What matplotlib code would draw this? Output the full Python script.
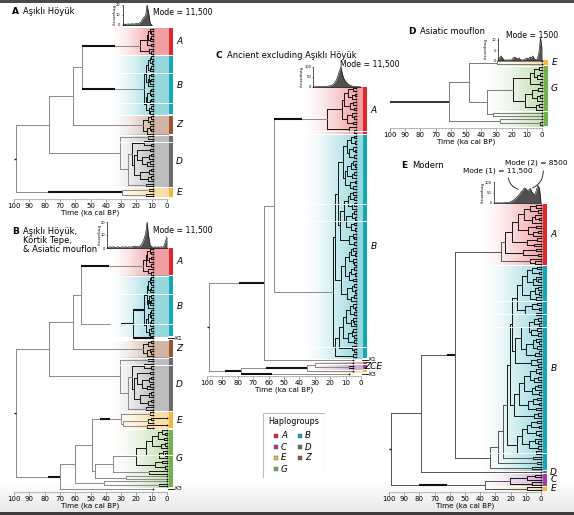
import numpy as np
import matplotlib
matplotlib.use("Agg")
import matplotlib.pyplot as plt
from matplotlib.patches import Rectangle, FancyArrowPatch
from matplotlib.collections import LineCollection
from matplotlib.colors import to_rgb

plt.rcParams['font.family'] = ['DejaVu Sans']

W, H = 574, 515

# ------------------------------------------------------------------ data
time_ticks = [100, 90, 80, 70, 60, 50, 40, 30, 20, 10, 0]
legend_col1 = ['A', 'C', 'E', 'G']
legend_col2 = ['B', 'D', 'Z']

# Panel A : Asikli Hoyuk
A_groups = ['A', 'B', 'Z', 'D', 'E']
A_labels = ['A', 'B', 'Z', 'D', 'E']
A_hA = [11.0, 10.2, 12.5, 10.6, 11.4, 13.2, 10.4, 17.5, 12.0, 10.3]
A_hB = [10.3, 11.2, 10.1, 12.4, 10.6, 11.0, 13.5, 10.2, 11.8, 10.4, 10.9, 12.2,
        15.0, 10.5, 11.3, 10.2, 12.8, 10.6, 11.1, 13.9, 10.3, 11.6, 10.8]
A_hZ = [10.4, 12.1, 10.8, 16.0, 11.2, 10.5, 13.0]
A_hD = [12.5, 31.0, 14.8, 10.6, 23.0, 11.4, 19.5, 10.2, 12.0, 16.2, 10.8, 13.1,
        21.5, 10.5, 11.9, 17.8, 10.4, 12.6, 25.4, 14.0]
A_hE = [12.0, 29.5, 13.5]
A_between = [55.7, 61.6, 77.0, 98.7]
A_tip_age = [9, 9, 9, 9, 9]
A_seps = [18, 30, 46]
A_thick = [(55.7, 17.5, 55.7, 34.0), (55.7, 15.0, 55.7, 34.0), (98.7, 29.5, 78.0, 29.5)]
A_hist_t = [29, 28, 27, 26, 25, 24, 23, 22, 21, 20, 19, 18, 17, 16, 15, 14, 13, 12, 11, 10]
A_hist_f = [0.5, 1, 0.5, 1, 1, 0.8, 1.2, 1, 1, 1.5, 1, 2, 3, 6, 8, 9, 20, 12, 2, 0]

# Panel B : Asikli Hoyuk, Kortik Tepe & Asiatic mouflon
B_groups = ['A', 'B', 'K1', 'Z', 'D', 'E', 'G', 'K3']
B_labels = ['A', 'B', 'K1', 'Z', 'D', 'E', 'G', 'K3']
B_hA = [11.2, 10.3, 12.8, 10.5, 11.6, 13.4, 10.2, 15.6, 12.2, 10.4]
B_hB = [10.4, 11.3, 10.2, 12.6, 10.7, 11.1, 13.3, 10.3, 11.9, 10.5, 10.8, 12.3,
        15.2, 10.4, 11.2, 10.3, 12.7, 10.5, 11.0, 13.8, 10.2, 11.5, 10.9]
B_hK1 = []
B_hZ = [10.6, 12.3, 15.6, 11.0, 10.4, 13.1]
B_hD = [12.5, 31.0, 14.8, 10.6, 23.0, 11.4, 19.5, 10.2, 12.0, 16.2, 10.8, 13.1,
        21.5, 10.5, 11.9, 17.8, 10.4, 12.6, 25.4, 14.0]
B_hE = [11.0, 30.0, 10.5, 12.5, 28.5, 13.0]
B_hG = [3.5, 1.2, 6.0, 2.1, 9.5, 1.6, 4.2, 14.0, 2.8, 1.0, 5.5, 20.0, 3.1, 7.8,
        1.5, 35.0, 12.0, 47.0, 27.0, 60.0, 41.0, 5.0]
B_hK3 = []
B_between = [56.0, 22.0, 61.7, 77.0, 98.7, 49.0, 70.0]
B_tip_age = [9, 9, 9, 9, 9, [9, 9, 0, 9, 9, 0, 9], 0, 9]
B_seps = [18, 30, 46, 81]
B_thick = [(56.0, 15.6, 56.0, 38.0), (56.0, 22.0, 30.0, 22.0), (22.0, 15.2, 22.0, 15.2),
           (22.0, 9, 22.0, 9.0), (98.7, 70.0, 78.0, 70.0), (49.0, 30.0, 44.0, 37.0)]
B_hist_t = [39, 38, 37, 36, 35, 34, 33, 32, 31, 30, 29, 28, 27, 26, 25, 24, 23, 22, 21, 20,
            19, 18, 17, 16, 15, 14, 13, 12, 11, 10, 9, 8, 7, 6, 5, 4, 3, 2, 1, 0]
B_hist_f = [0.5, 0.5, 1, 0.5, 1, 0.5, 0.5, 1, 0.5, 0.5, 1, 0.5, 1, 0.5, 1, 0.5, 1, 1, 1.5, 1,
            1, 1.5, 2, 4, 7, 11, 20, 9, 2, 1, 0.5, 1, 0.5, 1, 0.5, 1, 0.5, 1.5, 5, 9]

# Panel C : Ancient excluding Asikli Hoyuk
C_groups = ['A', 'B', 'K1', 'Z', 'C', 'E', 'K3']
C_labels = ['A', 'B', 'K1', '', 'ZCE', '', 'K3']
C_hA = [5.0, 8.5, 4.2, 6.1, 11.0, 5.3, 7.4, 4.6, 12.5, 6.0, 4.4, 9.0, 5.1, 22.0, 8.0, 4.8]
C_hB = [4.5, 6.8, 4.1, 9.2, 5.0, 3.8, 7.5, 4.6, 12.0, 5.2, 4.0, 6.3, 8.8, 4.4, 5.6, 10.5,
        4.2, 6.9, 4.9, 15.0,
        5.1, 7.2, 4.3, 8.4, 4.7, 6.0, 11.2, 4.5, 5.8, 3.9, 9.6, 4.8, 6.5, 4.1, 13.5, 5.4,
        4.6, 7.9, 4.3, 16.8,
        4.9, 6.2, 4.0, 8.1, 5.3, 4.4, 10.2, 4.7, 6.6, 4.2, 7.7, 5.0, 12.8, 4.5, 5.9, 4.1,
        9.0, 4.8, 6.4, 18.5,
        5.5, 4.2, 7.1, 4.6, 9.8, 5.0, 4.3, 6.7, 11.6, 4.9, 5.7, 4.4, 8.3, 4.7, 14.2, 6.1,
        4.5, 17.0, 5.2]
C_hK1 = []
C_hZ = []
C_hC = [8.0]
C_hE = []
C_hK3 = []
C_between = [56.5, 63.0, 99.0, 30.0, 35.0, 78.0]
C_tip_age = [3, 3, 5, 5, 5, 5, 8]
C_seps = [16, 42, 48, 93]
C_thick = [(99.0, 63.0, 79.0, 63.0), (56.5, 22.0, 56.5, 38.0), (99.0, 78.0, 88.0, 78.0),
           (78.0, 35.0, 62.0, 35.0), (78.0, 8, 78.0, 58.0)]
C_hist_t = [31, 30, 29, 28, 27, 26, 25, 24, 23, 22, 21, 20, 19, 18, 17, 16,
            15, 14, 13, 12, 11, 10, 9, 8, 7, 6, 5, 4, 3, 2, 1, 0]
C_hist_f = [1, 1, 2, 1, 2, 1, 2, 2, 3, 4, 5, 6, 9, 14, 22, 35,
            55, 80, 100, 62, 40, 28, 18, 12, 8, 5, 3, 2, 2, 1, 1, 0]

# Panel D : Asiatic mouflon
D_groups = ['E', 'G', 'G']
D_labels = ['E', 'G', '']
D_hE = [29.7]
D_hG1 = [2.0, 5.5, 1.2, 3.0, 8.0, 1.5, 19.0, 2.5, 6.5, 1.0, 3.5, 11.0, 1.8, 4.0]
D_hG2 = [32.0, 61.0, 27.5, 1.0]
D_between = [48.0, 36.0]
D_tip_age = [0, 0, 0]
D_seps = []
D_thick = []
D_hist_t = [29, 28, 27, 26, 25, 24, 23, 22, 21, 20, 19, 18, 17, 16, 15,
            14, 13, 12, 11, 10, 9, 8, 7, 6, 5, 4, 3, 2, 1, 0]
D_hist_f = [0, 1, 2, 1, 0, 0, 0, 0, 0, 0, 1, 1.5, 1, 0.5, 1,
            0, 0, 0, 0.5, 1, 0.5, 1.5, 1, 2, 0.5, 0, 0.5, 4, 11, 6]

# Panel E : Modern
E_groups = ['A', 'B', 'D', 'C', 'E']
E_labels = ['A', 'B', 'D', 'C', 'E']
E_hA = [3.5, 7.0, 2.1, 11.5, 4.0, 1.6, 6.2, 15.0, 3.0, 8.8, 1.9, 5.1, 19.0, 2.6,
        9.5, 4.4, 24.0, 3.2, 12.0, 2.0, 26.0, 7.5, 3.8]
E_hB = [2.5, 6.0, 1.4, 9.5, 3.2, 1.8, 5.0, 12.5, 2.2, 4.1, 1.1, 7.4, 3.0, 16.0, 2.7,
        5.8, 1.5, 10.2, 3.6, 19.0,
        2.0, 4.6, 1.3, 8.1, 2.9, 6.5, 1.7, 13.4, 3.3, 1.2, 5.4, 2.4, 9.8, 1.6, 4.2,
        17.2, 2.8, 6.9, 1.9, 20.5,
        3.1, 1.5, 7.2, 2.3, 4.8, 11.0, 1.8, 3.7, 6.1, 1.4, 14.6, 2.6, 5.3, 1.2, 8.6,
        3.4, 18.0, 2.1, 4.5, 22.6,
        2.7, 6.3, 1.6, 9.1, 3.0, 1.3, 12.2, 4.0, 2.2, 7.6, 1.8, 15.5, 3.5, 25.0, 5.2,
        28.0, 2.9, 33.6, 6.0]
E_hD = []
E_hC = [4.0, 9.5, 20.4, 6.0]
E_hE = [9.5]
E_between = [56.7, 78.7, 98.9, 37.0]
E_tip_age = [0, 0, 0, 0, 0]
E_seps = [38, 43, 48, 97]
E_thick = [(78.7, 56.7, 62.0, 56.7), (98.9, 37.0, 80.0, 62.0)]
E_hist_t = [31, 30, 29, 28, 27, 26, 25, 24, 23, 22, 21, 20, 19, 18, 17, 16,
            15, 14, 13, 12, 11, 10, 9, 8, 7, 6, 5, 4, 3, 2, 1, 0]
E_hist_f = [1, 0, 1, 0, 1, 0, 1, 1, 2, 1, 3, 6, 10, 14, 20, 28,
            35, 42, 55, 60, 72, 68, 58, 62, 70, 52, 45, 40, 62, 85, 70, 5]

# ------------------------------------------------------------------ style
hap_colors = {'A': '#e2262d', 'B': '#14a7b4', 'C': '#9b3f9d', 'D': '#6a6a6a',
              'E': '#f4b53c', 'G': '#72b24c', 'Z': '#98562f'}

fig = plt.figure(figsize=(W / 100, H / 100), dpi=100)
fig.patch.set_facecolor('white')


def px_axes(x0, y0, x1, y1, **kw):
    return fig.add_axes([x0 / W, 1 - y1 / H, (x1 - x0) / W, (y1 - y0) / H], **kw)


def ftext(x, y, s, **kw):
    kw.setdefault('va', 'center')
    return fig.text(x / W, 1 - y / H, s, **kw)


# background: bottom shading and dark frame bands
bg = px_axes(0, 0, W, H, zorder=-10)
bg.axis('off')
grad = np.linspace(0, 1, 50)[:, None] * np.ones((1, 2))
bg.imshow(np.dstack([1 - 0.09 * grad] * 3), extent=(0, W, 512, 482), aspect='auto',
          interpolation='bilinear')
bg.add_patch(Rectangle((0, 511.5), W, 4, color='#3c3a3a', lw=0))
bg.add_patch(Rectangle((0, 0), W, 2.5, color='#4a4a4a', lw=0))
bg.set_xlim(0, W)
bg.set_ylim(H, 0)


def assemble(within, between, tip_age):
    tips, heights, spans = [], [], []
    for g, w in enumerate(within):
        n = len(w) + 1
        ta = tip_age[g]
        tl = list(ta) if isinstance(ta, (list, tuple)) else [ta] * n
        start = len(tips)
        tips += tl
        heights += list(w)
        if g < len(between):
            heights.append(between[g])
        spans.append((start, start + n - 1))
    return tips, heights, spans


def build(tips, heights):
    segs = []

    def rec(lo, hi):
        if lo == hi:
            return tips[lo], float(lo)
        k = lo + int(np.argmax(heights[lo:hi]))
        h = heights[k]
        tl, yl = rec(lo, k)
        tr, yr = rec(k + 1, hi)
        segs.append((h, tl, yl, yl))
        segs.append((h, tr, yr, yr))
        segs.append((h, h, yl, yr))
        return h, 0.5 * (yl + yr)

    rh, ry = rec(0, len(tips) - 1)
    return segs, rh, ry


def draw_panel(yfirst, ylast, spine_y, X100, X0, groups, labels, within, between,
               tip_age, seps, thick, grad_t, deep_col='#8a8a8a', deep_thr=24,
               root_lw=1.0):
    tips, heights, spans = assemble(within, between, tip_age)
    n = len(tips)
    sp = (ylast - yfirst) / (n - 1)
    s = (X0 - X100) / 100.0
    ax = px_axes(X100 - 4, yfirst - sp / 2, X0 + 26, ylast + sp / 2)
    ax.patch.set_alpha(0)
    t_bar0, t_bar1 = -1.5 / s, -5.5 / s
    for g, lab, (i0, i1) in zip(groups, labels, spans):
        yc = 0.5 * (i0 + i1)
        if g in hap_colors:
            rgb = to_rgb(hap_colors[g])
            tip_t = max(tips[i0:i1 + 1])
            xs = np.linspace(grad_t, t_bar0, 240)
            a = np.clip((grad_t - xs) / (grad_t - tip_t), 0, 1) ** 1.5 * 0.44
            img = np.zeros((1, 240, 4))
            img[..., :3] = rgb
            img[0, :, 3] = a
            ax.imshow(img, extent=(grad_t, t_bar0, i1 + 0.5, i0 - 0.5), aspect='auto',
                      interpolation='bilinear', zorder=0)
            gap = 0.6 / sp
            ax.add_patch(Rectangle((t_bar1, i0 - 0.5 + gap), t_bar0 - t_bar1,
                                   (i1 - i0 + 1) - 2 * gap, color=hap_colors[g], lw=0,
                                   zorder=3))
            if lab:
                ax.text(-12.5 / s, yc, lab, style='italic', fontsize=6.5, ha='center',
                        va='center', clip_on=False)
        else:
            ax.plot([-1 / s, -7 / s], [yc, yc], color='k', lw=0.6, clip_on=False, zorder=3)
            ax.text(-7.5 / s, yc, lab, fontsize=4.3, ha='left', va='center', clip_on=False)
        if i0 > 0:
            ax.plot([grad_t, t_bar0], [i0 - 0.5, i0 - 0.5], color='white', lw=0.8, zorder=1)
    for k in seps:
        ax.plot([grad_t, t_bar1], [k - 0.5, k - 0.5], color='white', lw=0.7, zorder=4,
                solid_capstyle='butt')
    segs, rh, ry = build(tips, heights)
    lines, cols = [], []
    for (x0, x1, y0, y1) in segs:
        lines.append([(x0, y0), (x1, y1)])
        cols.append(deep_col if x0 > deep_thr else '#151515')
    ax.add_collection(LineCollection(lines, colors=cols, linewidths=0.7, zorder=2,
                                     capstyle='projecting'))
    for (ph, ch, ta, tb) in thick:
        for (x0, x1, y0, y1) in segs:
            if y0 == y1 and abs(x0 - ph) < 1e-6 and abs(x1 - ch) < 1e-6:
                ax.plot([ta, tb], [y0, y0], color='#111111', lw=1.5, zorder=2.5,
                        solid_capstyle='butt')
                break
    ax.plot([100, rh], [ry, ry], color='#111111', lw=root_lw, zorder=2,
            solid_capstyle='butt')
    ax.plot(tips, np.arange(n), 'o', ms=1.3, color='#111111', mec='none', zorder=3)
    ax.set_xlim(100 + 4 / s, -26 / s)
    ax.set_ylim(n - 0.5, -0.5)
    for k in ['top', 'right', 'left']:
        ax.spines[k].set_visible(False)
    ax.spines['bottom'].set_position(('outward', (spine_y - (ylast + sp / 2)) * 0.72))
    ax.spines['bottom'].set_bounds(0, 100)
    ax.spines['bottom'].set_color('#a0a0a0')
    ax.spines['bottom'].set_linewidth(0.5)
    ax.set_xticks(time_ticks)
    ax.set_xticks(np.arange(0, 101, 2), minor=True)
    ax.tick_params(axis='x', which='major', length=1.8, width=0.5, color='#777777',
                   labelsize=5, pad=1.2)
    ax.tick_params(axis='x', which='minor', length=1.0, width=0.4, color='#9a9a9a')
    ax.set_yticks([])
    ftext((X100 + X0) / 2, spine_y + 13.5, 'Time (ka cal BP)', fontsize=5.2, ha='center')
    return ax


def draw_hist(X0, X100, y0, y1, t_vals, f_vals, ymax, yticks, lab_dx=12):
    s = (X0 - X100) / 100.0
    tmax, tmin = max(t_vals), min(t_vals)
    hax = px_axes(X0 - tmax * s, y0, X0 - tmin * s, y1)
    hax.patch.set_alpha(0)
    hax.fill_between(t_vals, f_vals, color='#505050', lw=0)
    hax.plot(t_vals, f_vals, color='#111111', lw=0.45)
    hax.set_xlim(tmax, tmin)
    hax.set_ylim(0, ymax)
    for k in ['top', 'right']:
        hax.spines[k].set_visible(False)
    for k in ['left', 'bottom']:
        hax.spines[k].set_linewidth(0.5)
        hax.spines[k].set_color('#111111')
    hax.set_xticks([])
    hax.set_yticks(yticks)
    hax.set_yticklabels([str(v) for v in yticks])
    hax.tick_params(axis='y', length=1, width=0.4, labelsize=2.6, pad=0.5)
    x_left = X0 - tmax * s
    ftext(x_left - lab_dx, (y0 + y1) / 2 + 1, 'Frequency', fontsize=3.0, rotation=-90,
          ha='center')
    return hax


# ------------------------------------------------------------------ panels
# A
draw_panel(29, 196, 199, 14, 167, A_groups, A_labels,
           [A_hA, A_hB, A_hZ, A_hD, A_hE], A_between, A_tip_age, A_seps, A_thick,
           grad_t=37)
draw_hist(167, 14, 5, 25, A_hist_t, A_hist_f, 20, [0, 10, 20], lab_dx=10)
ftext(12, 12, 'A', fontsize=6.5, weight='bold', ha='left')
ftext(23, 12, 'Aşıklı Höyük', fontsize=6, ha='left')
ftext(153, 12, 'Mode = 11,500', fontsize=5.6, ha='left')

# B
draw_panel(249, 489, 492, 14, 167, B_groups, B_labels,
           [B_hA, B_hB, B_hK1, B_hZ, B_hD, B_hE, B_hG, B_hK3], B_between, B_tip_age,
           B_seps, B_thick, grad_t=37)
draw_hist(167, 14, 222, 248, B_hist_t, B_hist_f, 20, [0, 10, 20], lab_dx=10)
ftext(12, 231, 'B', fontsize=6.5, weight='bold', ha='left')
ftext(23, 231, 'Aşıklı Höyük,', fontsize=6, ha='left')
ftext(23, 240.5, 'Körtik Tepe,', fontsize=6, ha='left')
ftext(23, 250, '& Asiatic mouflon', fontsize=6, ha='left')
ftext(153, 230, 'Mode = 11,500', fontsize=5.6, ha='left')

# C
draw_panel(88, 374, 376, 207, 361, C_groups, C_labels,
           [C_hA, C_hB, C_hK1, C_hZ, C_hC, C_hE, C_hK3], C_between, C_tip_age,
           C_seps, C_thick, grad_t=38)
draw_hist(361, 207, 67, 87, C_hist_t, C_hist_f, 100, [0, 50, 100], lab_dx=14)
ftext(216, 55, 'C', fontsize=6.5, weight='bold', ha='left')
ftext(227, 55, 'Ancient excluding Aşıklı Höyük', fontsize=6, ha='left')
ftext(340, 65, 'Mode = 11,500', fontsize=5.6, ha='left')

# D
draw_panel(61, 125, 128, 390, 542, D_groups, D_labels,
           [D_hE, D_hG1, D_hG2], D_between, D_tip_age, D_seps, D_thick, grad_t=38,
           deep_col='#7a7a7a', root_lw=1.2)
draw_hist(542, 390, 38, 60, D_hist_t, D_hist_f, 11, [0, 5, 10], lab_dx=14)
ftext(408, 32, 'D', fontsize=6.5, weight='bold', ha='left')
ftext(420, 32, 'Asiatic mouflon', fontsize=6, ha='left')
ftext(506, 35, 'Mode = 1500', fontsize=5.6, ha='left')

# E
draw_panel(205, 490, 492, 389, 541, E_groups, E_labels,
           [E_hA, E_hB, E_hD, E_hC, E_hE], E_between, E_tip_age, E_seps, E_thick,
           grad_t=40, deep_col='#555555')
draw_hist(541, 389, 182, 203, E_hist_t, E_hist_f, 100, [0, 50, 100], lab_dx=13)
ftext(401, 165, 'E', fontsize=6.5, weight='bold', ha='left')
ftext(412, 165, 'Modern', fontsize=6, ha='left')
ftext(505, 163, 'Mode (2) = 8500', fontsize=5.3, ha='left')
ftext(463, 171, 'Mode (1) = 11,500', fontsize=5.3, ha='left')
fig.add_artist(FancyArrowPatch(
    (508 / W, 1 - 175 / H), (521 / W, 1 - 190 / H), transform=fig.transFigure,
    arrowstyle='-', connectionstyle='arc3,rad=0.4', lw=0.6, color='#111111'))
fig.add_artist(FancyArrowPatch(
    (543 / W, 1 - 168 / H), (530 / W, 1 - 189 / H), transform=fig.transFigure,
    arrowstyle='-', connectionstyle='arc3,rad=-0.4', lw=0.6, color='#111111'))

# ------------------------------------------------------------------ legend
lg = px_axes(262, 412, 325, 478)
lg.set_xlim(262, 325)
lg.set_ylim(478, 412)
lg.axis('off')
lg.add_patch(Rectangle((262.5, 412.5), 62, 65, fill=False, ec='#bdbdbd', lw=0.8))
lg.text(293.5, 422, 'Haplogroups', fontsize=5.8, ha='center', va='center')
rows = [436, 447, 458, 469]
for col, (mx, lx) in zip([legend_col1, legend_col2], [(276, 281), (300, 305)]):
    for g, yy in zip(col, rows):
        lg.add_patch(Rectangle((mx - 1.8, yy - 1.8), 3.6, 3.6, fc=hap_colors[g],
                               ec='#555555', lw=0.3))
        lg.text(lx, yy, g, style='italic', fontsize=6.2, ha='left', va='center')

fig.savefig('out.png', dpi=100, facecolor='white')
